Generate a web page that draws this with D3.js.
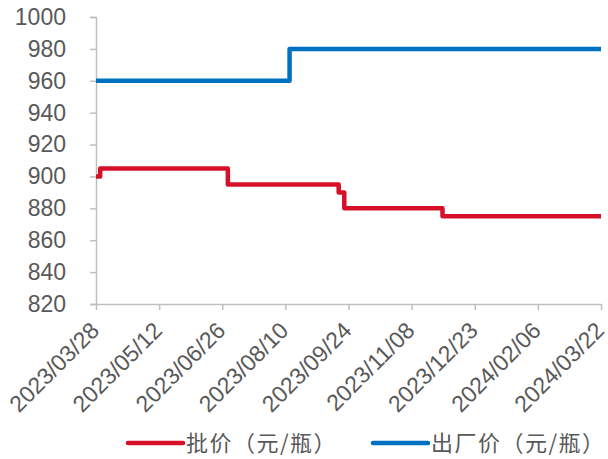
<!DOCTYPE html>
<html><head><meta charset="utf-8">
<script src="https://cdn.jsdelivr.net/npm/d3@7"></script>
<style>body{margin:0;background:#fff}svg{display:block}</style>
</head><body>
<svg id="c" width="608" height="459"></svg>
<script>
// Data: step-change points (date, value); series holds until next change
const pifaDates = ["2023/03/28","2023/03/31","2023/06/30","2023/09/17","2023/09/21","2023/11/30","2024/03/22"];
const pifaValues = [900, 905, 895, 890, 880, 875, 875];
const chuchangDates = ["2023/03/28","2023/08/13","2024/03/22"];
const chuchangValues = [960, 980, 980];
const xTickLabels = ["2023/03/28","2023/05/12","2023/06/26","2023/08/10","2023/09/24","2023/11/08","2023/12/23","2024/02/06","2024/03/22"];
const yTicks = [820,840,860,880,900,920,940,960,980,1000];
const seriesNames = ["批价（元/瓶）","出厂价（元/瓶）"];
const seriesColors = ["#d7102a","#0070c0"];

(function(){
const parse = d3.timeParse("%Y/%m/%d");
const svg = d3.select("#c");
const mLeft = 96, mRight = 601, mTop = 17, mBottom = 304;
const x = d3.scaleTime().domain([parse("2023/03/28"), parse("2024/03/22")]).range([mLeft, mRight]);
const y = d3.scaleLinear().domain([820, 1000]).range([mBottom, mTop]);
const grey = "#bfbfbf", txt = "#595959", font = "'Liberation Sans', Arial, sans-serif";

// Y axis
const yAxis = svg.append("g").attr("transform", `translate(${mLeft},0)`)
  .call(d3.axisLeft(y).tickValues(yTicks).tickSize(6).tickPadding(24).tickFormat(d3.format("d")));
yAxis.select(".domain").attr("stroke", grey).attr("stroke-width", 1.5);
yAxis.selectAll(".tick line").attr("stroke", grey).attr("stroke-width", 1.5);
yAxis.selectAll(".tick text").attr("fill", txt).style("font-family", font).style("font-size", "23px");

// X axis
const xAxis = svg.append("g").attr("transform", `translate(0,${mBottom})`)
  .call(d3.axisBottom(x).tickValues(xTickLabels.map(parse)).tickSize(6).tickSizeOuter(0).tickFormat(d3.timeFormat("%Y/%m/%d")));
xAxis.select(".domain").attr("stroke", grey).attr("stroke-width", 1.5);
xAxis.selectAll(".tick line").attr("stroke", grey).attr("stroke-width", 1.5);
xAxis.selectAll(".tick text").attr("fill", txt).style("font-family", font).style("font-size", "23px")
  .attr("text-anchor", "end").attr("dy", null).attr("y", null)
  .attr("transform", "translate(4,28) rotate(-45)");

// Lines
const line = d3.line().x(d => x(d.date)).y(d => y(d.value)).curve(d3.curveStepAfter);
const series = [
  pifaDates.map((d, i) => ({date: parse(d), value: pifaValues[i]})),
  chuchangDates.map((d, i) => ({date: parse(d), value: chuchangValues[i]}))
];
series.forEach((s, i) => {
  svg.append("path").datum(s).attr("d", line).attr("fill", "none")
    .attr("stroke", seriesColors[i]).attr("stroke-width", 4.5).attr("stroke-linejoin", "round");
});

// Legend
const legendX = [128, 373];
seriesNames.forEach((n, i) => {
  const g = svg.append("g").attr("transform", `translate(${legendX[i]},443)`);
  g.append("line").attr("x1", 0).attr("x2", 55).attr("y1", 0).attr("y2", 0)
    .attr("stroke", seriesColors[i]).attr("stroke-width", 4.5).attr("stroke-linecap", "round");
  g.append("text").attr("x", 58).attr("y", 8).text(n).attr("fill", txt)
    .style("font-family", "'Noto Sans CJK SC', sans-serif").style("font-size", "22px")
    .style("letter-spacing", "1.5px");
});
})();
</script>
</body></html>
